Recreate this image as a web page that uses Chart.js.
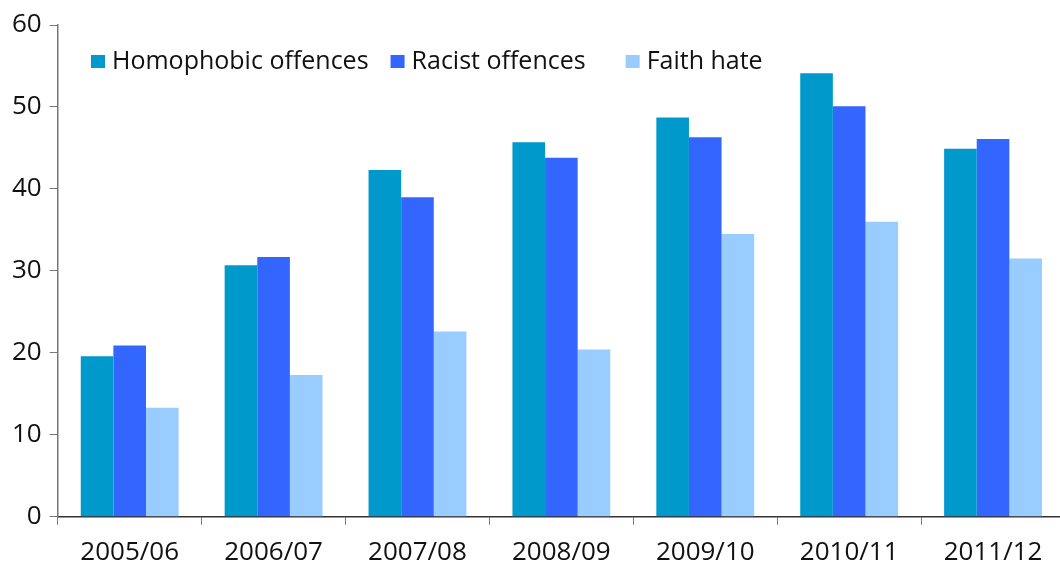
<!DOCTYPE html>
<html>
<head>
<meta charset="utf-8">
<script src="https://cdn.jsdelivr.net/npm/chart.js@4"></script>
<style>
    html, body { margin: 0; padding: 0; background: #fff; overflow: hidden; }
    #wrap { position: absolute; left: 0; top: 0; width: 1066px; height: 580px; }
</style>
</head>
<body>
<div id="wrap"><canvas id="hateChart" width="1066" height="580"></canvas></div>
<script>
// Recorded hate crime offences per year
const years = ['2005/06', '2006/07', '2007/08', '2008/09', '2009/10', '2010/11', '2011/12'];
const homophobic = [19.6, 30.7, 42.3, 45.7, 48.7, 54.1, 44.9];
const racist = [20.9, 31.7, 39.0, 43.8, 46.3, 50.1, 46.1];
const faithHate = [13.3, 17.3, 22.6, 20.4, 34.5, 36.0, 31.5];
const yTicks = [0, 10, 20, 30, 40, 50, 60];

const FONT = "'Open Sans', 'Noto Sans', sans-serif";

// Legend drawn inside the plot, Excel style (square swatch, tight text gap)
const insideLegend = {
    id: 'insideLegend',
    afterDraw(chart) {
        const ctx = chart.ctx;
        const gaps = [22, 40];
        let x = 91;
        ctx.save();
        ctx.font = '25px ' + FONT;
        ctx.textBaseline = 'alphabetic';
        chart.data.datasets.forEach((ds, i) => {
            ctx.fillStyle = ds.backgroundColor;
            ctx.fillRect(x, 55, 14, 13);
            ctx.fillStyle = '#111';
            ctx.fillText(ds.label, x + 21, 69);
            x += 21 + ctx.measureText(ds.label).width + (gaps[i] || 0);
        });
        ctx.restore();
    }
};

new Chart(document.getElementById('hateChart').getContext('2d'), {
    type: 'bar',
    data: {
        labels: years,
        datasets: [
            { label: 'Homophobic offences', data: homophobic, backgroundColor: '#0099cc' },
            { label: 'Racist offences', data: racist, backgroundColor: '#3366ff' },
            { label: 'Faith hate', data: faithHate, backgroundColor: '#99ccff' }
        ]
    },
    options: {
        responsive: false,
        animation: false,
        devicePixelRatio: 1,
        categoryPercentage: 0.68,
        barPercentage: 1.0,
        layout: { padding: { left: 4, top: 25, right: 1, bottom: 0 } },
        scales: {
            x: {
                grid: { display: true, drawOnChartArea: false, drawTicks: true, tickLength: 8, color: '#777', offset: true },
                border: { color: '#333', width: 1.5 },
                ticks: { color: '#111', font: { family: FONT, size: 26 }, padding: 12, maxRotation: 0 }
            },
            y: {
                min: 0,
                max: 60,
                afterBuildTicks(axis) { axis.ticks = yTicks.map(v => ({ value: v })); },
                grid: { display: true, drawOnChartArea: false, drawTicks: true, tickLength: 8, color: '#777' },
                border: { color: '#777', width: 1.5 },
                ticks: { color: '#111', font: { family: FONT, size: 26 }, padding: 8 }
            }
        },
        plugins: {
            legend: { display: false },
            tooltip: { enabled: false }
        }
    },
    plugins: [insideLegend]
});
</script>
</body>
</html>
